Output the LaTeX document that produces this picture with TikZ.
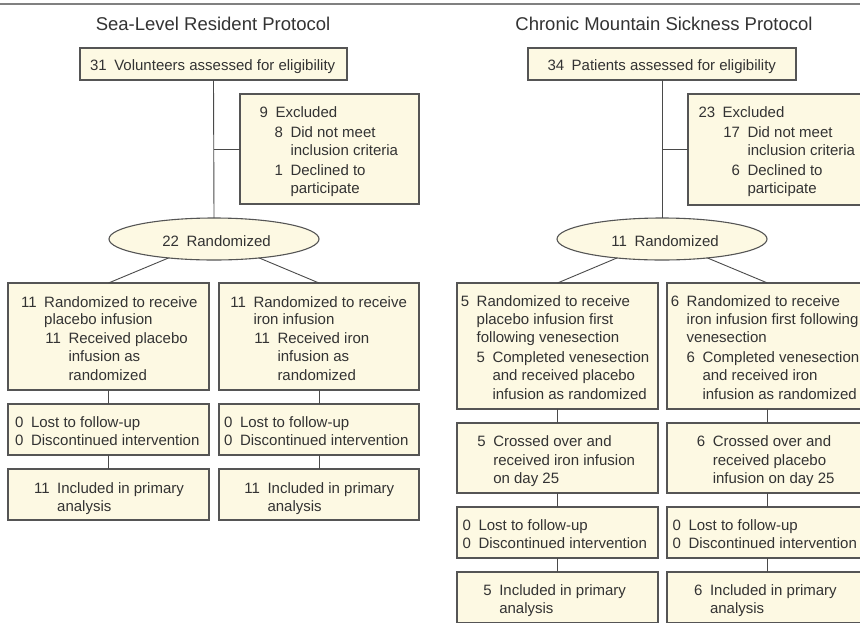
\documentclass[tikz,border=0pt]{standalone}
\usepackage{fontspec}
\setmainfont{Liberation Sans}
\usetikzlibrary{shapes.geometric}
\definecolor{boxfill}{HTML}{FDF9E3}
\definecolor{boxline}{HTML}{555555}
\definecolor{linec}{HTML}{4A4A4A}
\definecolor{textc}{HTML}{333333}
\definecolor{rulec}{HTML}{808080}
\newcommand\bodyfs{\fontsize{15}{18}\selectfont}
\newcommand\titlefs{\fontsize{18.5}{22}\selectfont}
\tikzset{
 flowbox/.style={rectangle, draw=boxline, fill=boxfill, line width=1.1pt, anchor=north west, inner sep=0pt, outer sep=0pt},
 rando/.style={ellipse, draw=boxline, fill=boxfill, line width=1.1pt, minimum width=210pt, minimum height=42pt, inner sep=0pt, outer sep=0pt},
 txt/.style={anchor=base west, inner sep=0pt, outer sep=0pt, font=\bodyfs, text=textc},
 num/.style={anchor=base east, inner sep=0pt, outer sep=0pt, font=\bodyfs, text=textc},
 ttl/.style={anchor=base, inner sep=0pt, outer sep=0pt, font=\titlefs, text=textc},
 conn/.style={draw=linec, line width=0.9pt},
}
% box: name, x, y (top-left), width, height
\newcommand\boxat[5]{\node[flowbox, minimum width=#4pt, minimum height=#5pt] (#1) at (#2,#3) {};}
% numbered line: name, text x, baseline y, number, text
\newcommand\nline[5]{\node[num] (#1n) at ({#2-7.5},#3) {#4};\node[txt] (#1) at (#2,#3) {#5};}
% plain line: name, x, baseline y, text
\newcommand\pline[4]{\node[txt] (#1) at (#2,#3) {#4};}
\begin{document}
\begin{tikzpicture}[x=1pt,y=-1pt]
\useasboundingbox (0,0) rectangle (860,622);
\clip (0,0) rectangle (860,622);
\fill[white] (0,0) rectangle (860,622);
\draw[rulec, line width=1.6pt] (0,4) coordinate (rl) -- (860,4) coordinate (rr);

% ---------------- Sea-Level Resident Protocol ----------------
\node[ttl] (ttl1) at (213,30.5) {Sea-Level Resident Protocol};
\boxat{a1}{80}{48}{267}{32}
\boxat{ex1}{240}{94}{179}{110}
\node[rando] (ell1) at (214,239) {};
\boxat{b1L}{8}{283}{201}{107}
\boxat{b1R}{219}{283}{200}{107}
\boxat{c1L}{8}{404}{201}{51}
\boxat{c1R}{219}{404}{200}{51}
\boxat{d1L}{8}{469}{201}{51}
\boxat{d1R}{219}{469}{200}{51}

\draw[conn] (a1.south) -- (ell1.north);
\draw[conn] (ex1.west) -- (ex1.west -| a1.south);
\draw[conn] (ell1) -- (b1L.north);
\draw[conn] (ell1) -- (b1R.north);
\draw[conn] (b1L.south) -- (c1L.north);
\draw[conn] (c1L.south) -- (d1L.north);
\draw[conn] (b1R.south) -- (c1R.north);
\draw[conn] (c1R.south) -- (d1R.north);

\nline{a1t}{114.3}{70}{31}{Volunteers assessed for eligibility}
\nline{e1a}{275.5}{117}{9}{Excluded}
\nline{e1b}{290.5}{137}{8}{Did not meet}
\pline{e1c}{290.5}{155}{inclusion criteria}
\nline{e1d}{290.5}{175.5}{1}{Declined to}
\pline{e1e}{290.5}{193.5}{participate}
\nline{r1t}{186.5}{246.5}{22}{Randomized}

\nline{bl1}{44.2}{307}{11}{Randomized to receive}
\pline{bl2}{44.2}{324.5}{placebo infusion}
\nline{bl3}{68.5}{343}{11}{Received placebo}
\pline{bl4}{68.5}{361.5}{infusion as}
\pline{bl5}{68.5}{380}{randomized}

\nline{br1}{253.5}{307}{11}{Randomized to receive}
\pline{br2}{253.5}{324.5}{iron infusion}
\nline{br3}{277.5}{343}{11}{Received iron}
\pline{br4}{277.5}{361.5}{infusion as}
\pline{br5}{277.5}{380}{randomized}

\nline{cl1}{31}{427.3}{0}{Lost to follow-up}
\nline{cl2}{31}{445.7}{0}{Discontinued intervention}
\nline{cr1}{240}{427.3}{0}{Lost to follow-up}
\nline{cr2}{240}{445.7}{0}{Discontinued intervention}

\nline{dl1}{57.2}{493.3}{11}{Included in primary}
\pline{dl2}{57.2}{511}{analysis}
\nline{dr1}{267.5}{493.3}{11}{Included in primary}
\pline{dr2}{267.5}{511}{analysis}

% ---------------- Chronic Mountain Sickness Protocol ----------------
\node[ttl] (ttl2) at (664,30.5) {Chronic Mountain Sickness Protocol};
\boxat{a2}{528}{48}{268}{32}
\boxat{ex2}{688}{94}{190}{111}
\node[rando] (ell2) at (662,239) {};
\boxat{b2L}{457}{283}{201}{126}
\boxat{b2R}{667}{283}{201}{126}
\boxat{e2L}{457}{423}{201}{70}
\boxat{e2R}{667}{423}{201}{70}
\boxat{c2L}{457}{507}{201}{51}
\boxat{c2R}{667}{507}{201}{51}
\boxat{d2L}{457}{572}{201}{51}
\boxat{d2R}{667}{572}{201}{51}

\draw[conn] (a2.south) -- (ell2.north);
\draw[conn] (ex2.west) -- (ex2.west -| a2.south);
\draw[conn] (ell2) -- (b2L.north);
\draw[conn] (ell2) -- (b2R.north);
\draw[conn] (b2L.south) -- (e2L.north);
\draw[conn] (e2L.south) -- (c2L.north);
\draw[conn] (c2L.south) -- (d2L.north);
\draw[conn] (b2R.south) -- (e2R.north);
\draw[conn] (e2R.south) -- (c2R.north);
\draw[conn] (c2R.south) -- (d2R.north);

\nline{a2t}{571.7}{70}{34}{Patients assessed for eligibility}
\nline{e2a}{722.7}{117}{23}{Excluded}
\nline{e2b}{747.5}{137.5}{17}{Did not meet}
\pline{e2c}{747.5}{155.5}{inclusion criteria}
\nline{e2d}{747.5}{175.5}{6}{Declined to}
\pline{e2e}{747.5}{193}{participate}
\nline{r2t}{634.5}{246.5}{11}{Randomized}

\nline{gl1}{476.7}{306.7}{5}{Randomized to receive}
\pline{gl2}{476.7}{324.3}{placebo infusion first}
\pline{gl3}{476.7}{342.7}{following venesection}
\nline{gl4}{492.5}{362.7}{5}{Completed venesection}
\pline{gl5}{492.5}{380.7}{and received placebo}
\pline{gl6}{492.5}{399}{infusion as randomized}

\nline{gr1}{686.7}{306.7}{6}{Randomized to receive}
\pline{gr2}{686.7}{324.3}{iron infusion first following}
\pline{gr3}{686.7}{342.7}{venesection}
\nline{gr4}{702.5}{362.7}{6}{Completed venesection}
\pline{gr5}{702.5}{380.7}{and received iron}
\pline{gr6}{702.5}{399}{infusion as randomized}

\nline{xl1}{493.3}{446.5}{5}{Crossed over and}
\pline{xl2}{493.3}{465}{received iron infusion}
\pline{xl3}{493.3}{483}{on day 25}
\nline{xr1}{712.8}{446.5}{6}{Crossed over and}
\pline{xr2}{712.8}{465}{received placebo}
\pline{xr3}{712.8}{483}{infusion on day 25}

\nline{kl1}{478.5}{530.3}{0}{Lost to follow-up}
\nline{kl2}{478.5}{548.7}{0}{Discontinued intervention}
\nline{kr1}{688.5}{530.3}{0}{Lost to follow-up}
\nline{kr2}{688.5}{548.7}{0}{Discontinued intervention}

\nline{il1}{499.3}{595.5}{5}{Included in primary}
\pline{il2}{499.3}{613.5}{analysis}
\nline{ir1}{710}{595.5}{6}{Included in primary}
\pline{ir2}{710}{613.5}{analysis}
\end{tikzpicture}
\end{document}
